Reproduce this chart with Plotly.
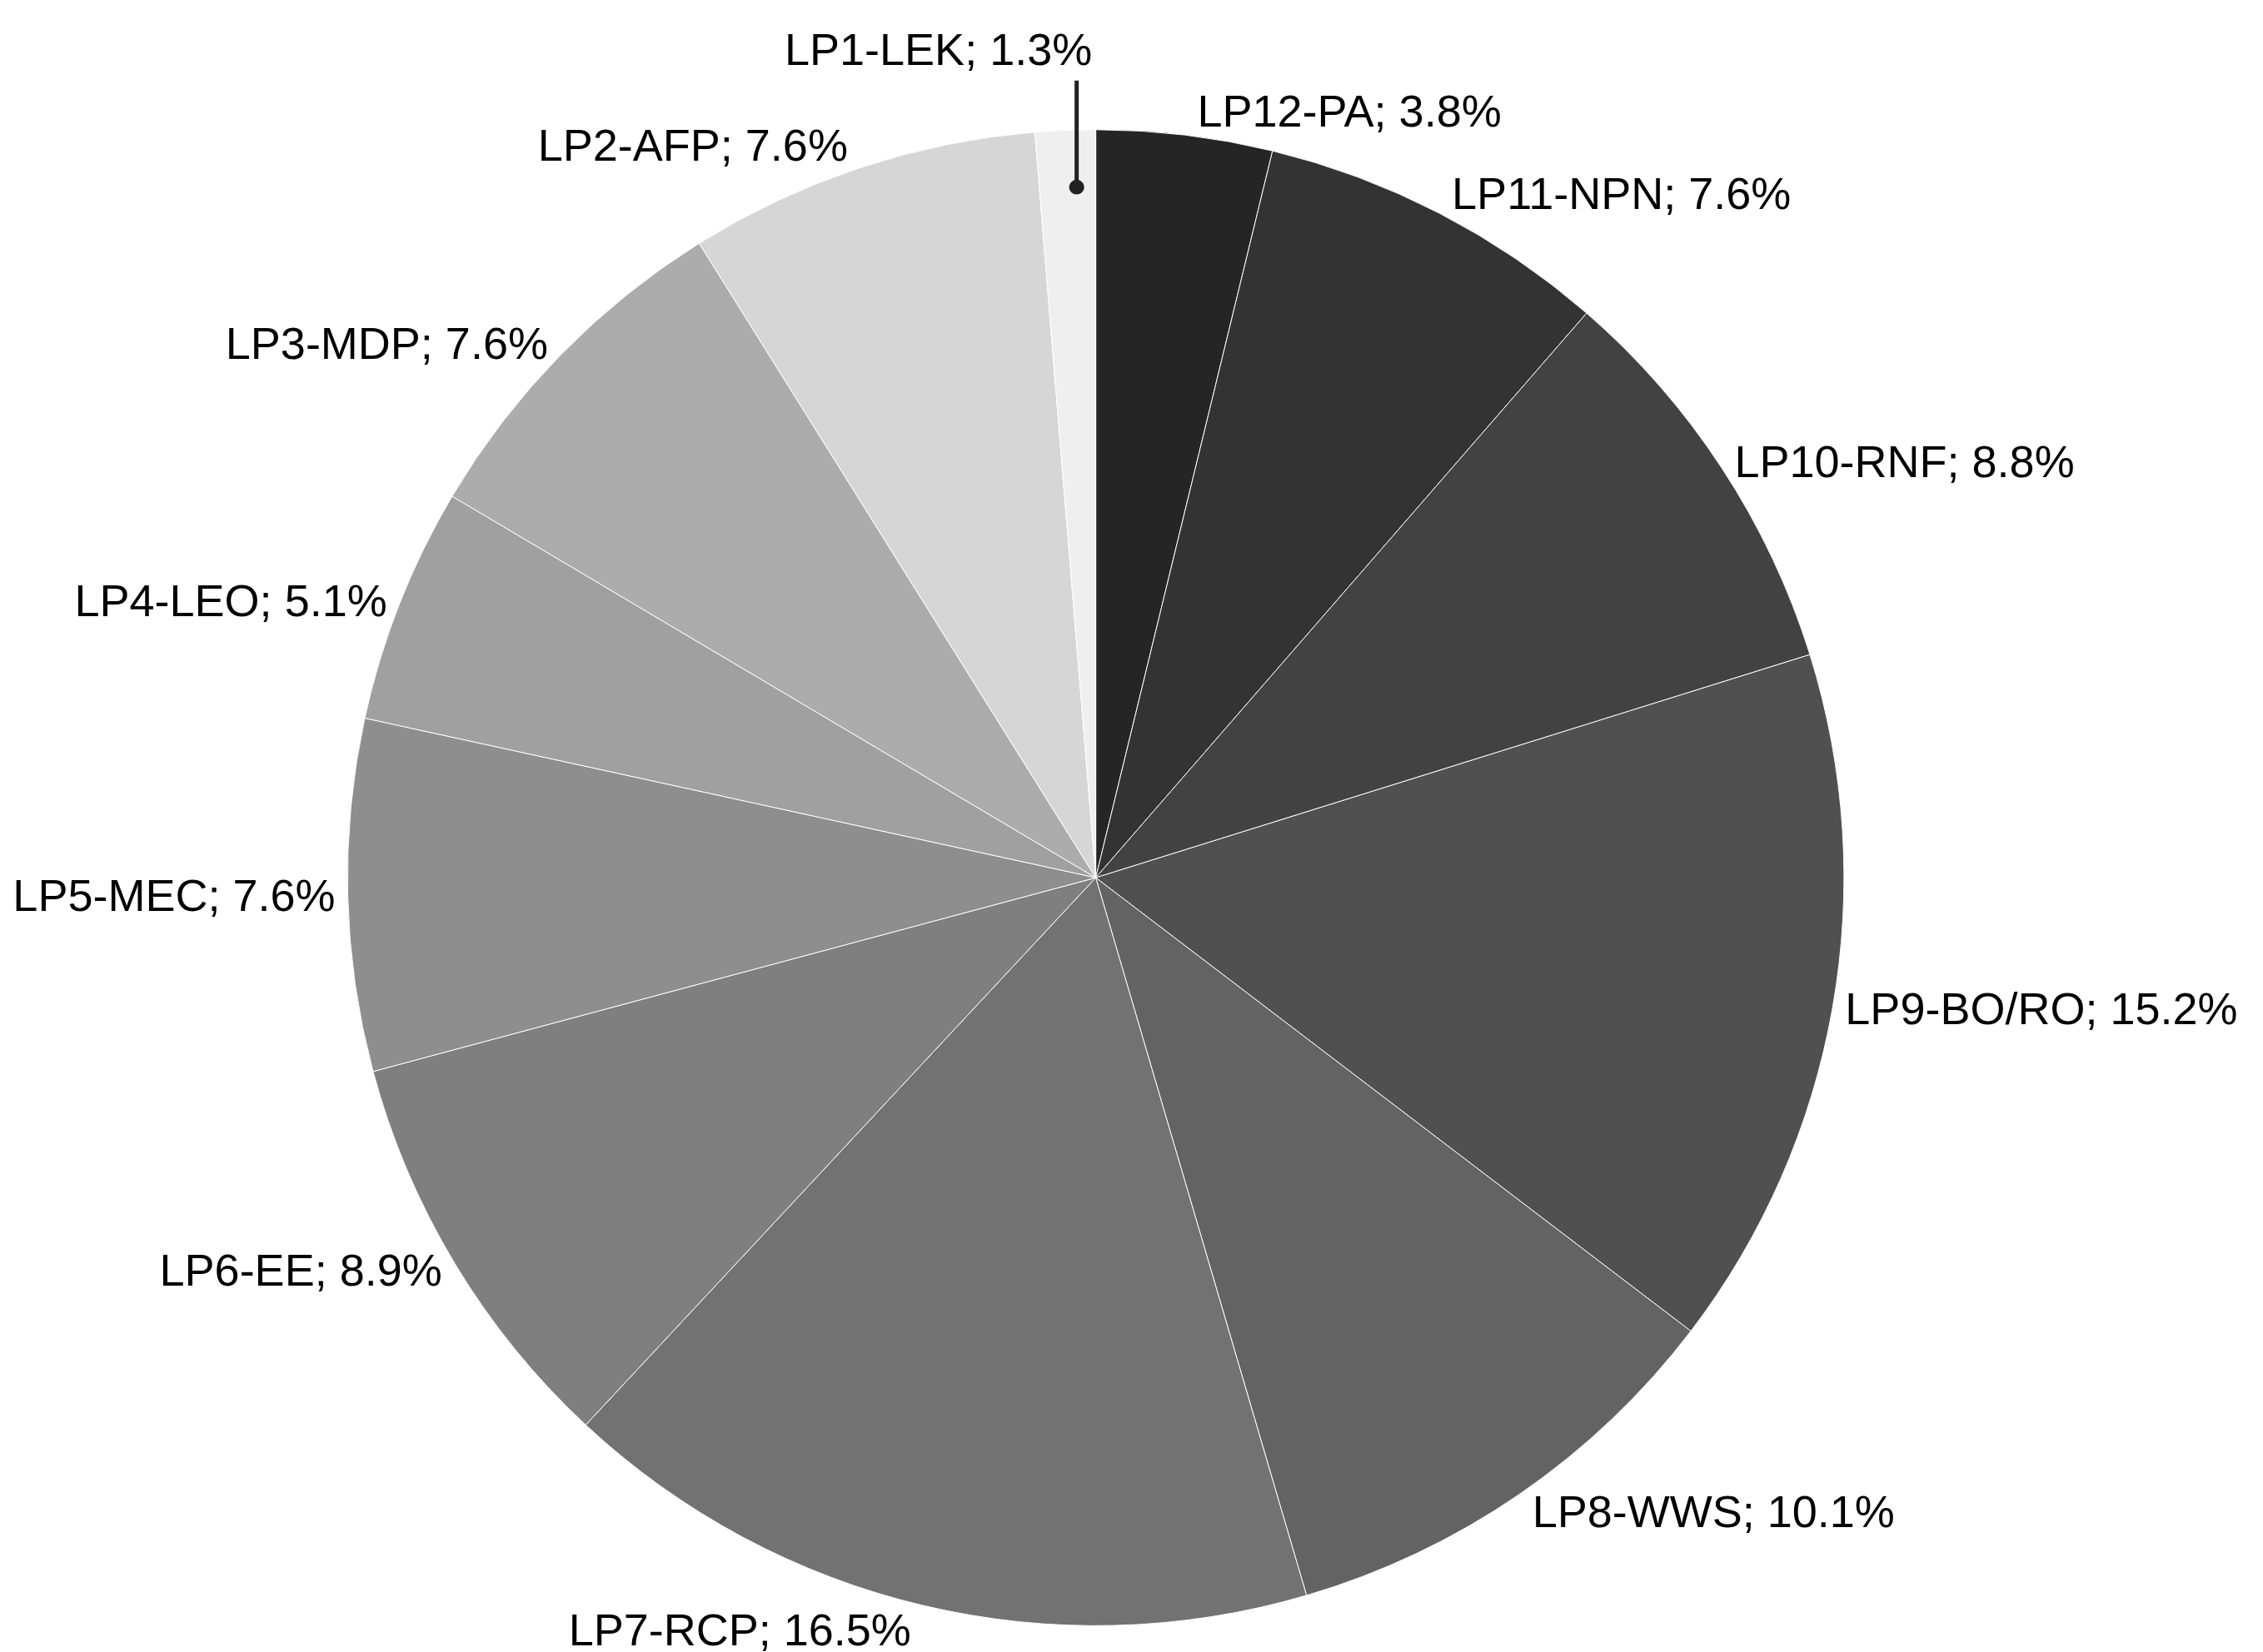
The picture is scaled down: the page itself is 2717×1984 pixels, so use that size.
import plotly.graph_objects as go

labels = ["LP12-PA","LP11-NPN","LP10-RNF","LP9-BO/RO","LP8-WWS","LP7-RCP","LP6-EE","LP5-MEC","LP4-LEO","LP3-MDP","LP2-AFP","LP1-LEK"]
values = [3.8,7.6,8.8,15.2,10.1,16.5,8.9,7.6,5.1,7.6,7.6,1.3]
colors = ["#252525","#333333","#424242","#505050","#636363","#727272","#7f7f7f","#8e8e8e","#a0a0a0","#acacac","#d6d6d6","#efefef"]
texts = [f"{l}; {v}%" for l, v in zip(labels, values)]
texts[-1] = ""

fig = go.Figure(go.Pie(
    labels=labels, values=values, text=texts, textinfo="text",
    textposition="outside", sort=False, direction="clockwise", rotation=0,
    marker=dict(colors=colors, line=dict(color="white", width=1)),
    textfont=dict(family="Liberation Sans, Arial", size=54, color="black"),
    domain=dict(x=[0.145, 0.811], y=[0.013, 0.925]), showlegend=False,
    hoverinfo="skip"))
fig.add_annotation(x=0.408, y=0.974, xref="paper", yref="paper", text="LP1-LEK; 1.3%",
                   showarrow=False, font=dict(family="Liberation Sans, Arial", size=54, color="black"),
                   yanchor="middle")
fig.add_shape(type="line", xref="paper", yref="paper", x0=0.4695, x1=0.4695, y0=0.955, y1=0.89,
              line=dict(color="#222", width=5))
fig.add_shape(type="circle", xref="paper", yref="paper", x0=0.4665, x1=0.4725, y0=0.886, y1=0.894,
              fillcolor="#222", line=dict(color="#222"))
fig.update_layout(width=2717, height=1984, margin=dict(l=0, r=0, t=0, b=0),
                  paper_bgcolor="white", plot_bgcolor="white")
fig.write_html("out.html")
